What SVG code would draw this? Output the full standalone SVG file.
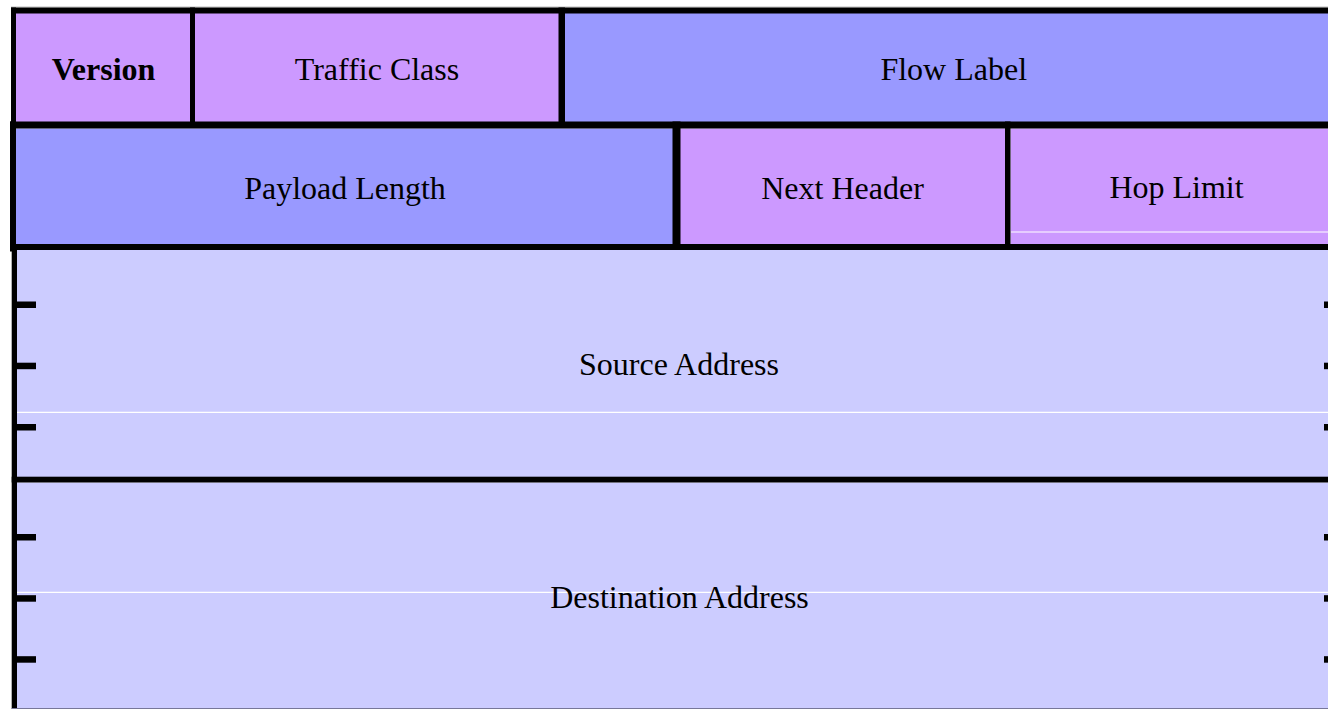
<svg xmlns="http://www.w3.org/2000/svg" width="1328" height="709" viewBox="0 0 1328 709">
  <style>
    .lbl { font-family: "Liberation Serif", "Times New Roman", serif; font-size: 32px; fill: #000; text-anchor: middle; }
    .bold { font-weight: bold; }
    .pink { fill: #CC99FF; }
    .blue { fill: #9999FF; }
    .pale { fill: #CCCCFF; }
    .rule { fill: #000; }
    .hl { stroke: #FFFFFF; stroke-width: 1.2; }
  </style>
  <defs>
    <!-- short word-boundary tick on each side of an address field -->
    <g id="tickL"><rect x="16" y="0" width="20" height="6.5" fill="#000"/></g>
    <g id="tickR"><rect x="1324" y="0" width="4" height="6.5" fill="#000"/></g>
  </defs>

  <rect width="1328" height="709" fill="#FFFFFF"/>
  <line x1="11" y1="7" x2="1328" y2="7" stroke="#BBBBBB" stroke-width="1"/>

  <!-- row 1 -->
  <g id="version">
    <rect class="pink" x="16" y="13" width="174" height="109"/>
    <text class="lbl bold" x="103.5" y="80">Version</text>
  </g>
  <g id="traffic-class">
    <rect class="pink" x="195" y="13" width="364" height="109"/>
    <text class="lbl" x="377" y="80">Traffic Class</text>
  </g>
  <g id="flow-label">
    <rect class="blue" x="565" y="13" width="763" height="109"/>
    <text class="lbl" x="953.7" y="80">Flow Label</text>
  </g>

  <!-- row 2 -->
  <g id="payload-length">
    <rect class="blue" x="16" y="128.5" width="657" height="116"/>
    <text class="lbl" x="345" y="198.5">Payload Length</text>
  </g>
  <g id="next-header">
    <rect class="pink" x="680" y="128.5" width="325.5" height="116"/>
    <text class="lbl" x="842.5" y="198.5">Next Header</text>
  </g>
  <g id="hop-limit">
    <rect class="pink" x="1010.5" y="128.5" width="317.5" height="116"/>
    <line class="hl" x1="1011" y1="232" x2="1328" y2="232"/>
    <text class="lbl" x="1176.5" y="198">Hop Limit</text>
  </g>

  <!-- 128-bit address fields -->
  <g id="source-address">
    <rect class="pale" x="17" y="250" width="1311" height="227"/>
    <line class="hl" x1="17" y1="412.3" x2="1328" y2="412.3"/>
    <use href="#tickL" y="301.5"/>
    <use href="#tickL" y="362.7"/>
    <use href="#tickL" y="424"/>
    <use href="#tickR" y="301.5"/>
    <use href="#tickR" y="362.7"/>
    <use href="#tickR" y="424"/>
    <text class="lbl" x="679" y="375">Source Address</text>
  </g>
  <g id="destination-address">
    <rect class="pale" x="17" y="482.5" width="1311" height="226"/>
    <line class="hl" x1="17" y1="592.3" x2="1328" y2="592.3"/>
    <use href="#tickL" y="534"/>
    <use href="#tickL" y="595.2"/>
    <use href="#tickL" y="656.2"/>
    <use href="#tickR" y="534"/>
    <use href="#tickR" y="595.2"/>
    <use href="#tickR" y="656.2"/>
    <text class="lbl" x="679.5" y="608">Destination Address</text>
  </g>

  <!-- field borders -->
  <g id="borders">
    <rect class="rule" x="11" y="7.5" width="1317" height="6"/>
    <rect class="rule" x="11" y="7.5" width="5" height="122"/>
    <rect class="rule" x="190" y="7.5" width="5" height="115"/>
    <rect class="rule" x="558.5" y="7.5" width="6.5" height="115"/>
    <rect class="rule" x="10" y="121.5" width="1318" height="7"/>
    <rect class="rule" x="10" y="121.5" width="6" height="130"/>
    <rect class="rule" x="672.5" y="121.5" width="8" height="128.5"/>
    <rect class="rule" x="1005" y="121.5" width="5.5" height="128.5"/>
    <rect class="rule" x="10" y="244" width="1318" height="6"/>
    <rect class="rule" x="11.7" y="244" width="5.3" height="465"/>
    <rect class="rule" x="11.7" y="476.7" width="1316.3" height="5.8"/>
    <line x1="11.7" y1="708.5" x2="1328" y2="708.5" stroke="#777799" stroke-width="1"/>
  </g>
</svg>
